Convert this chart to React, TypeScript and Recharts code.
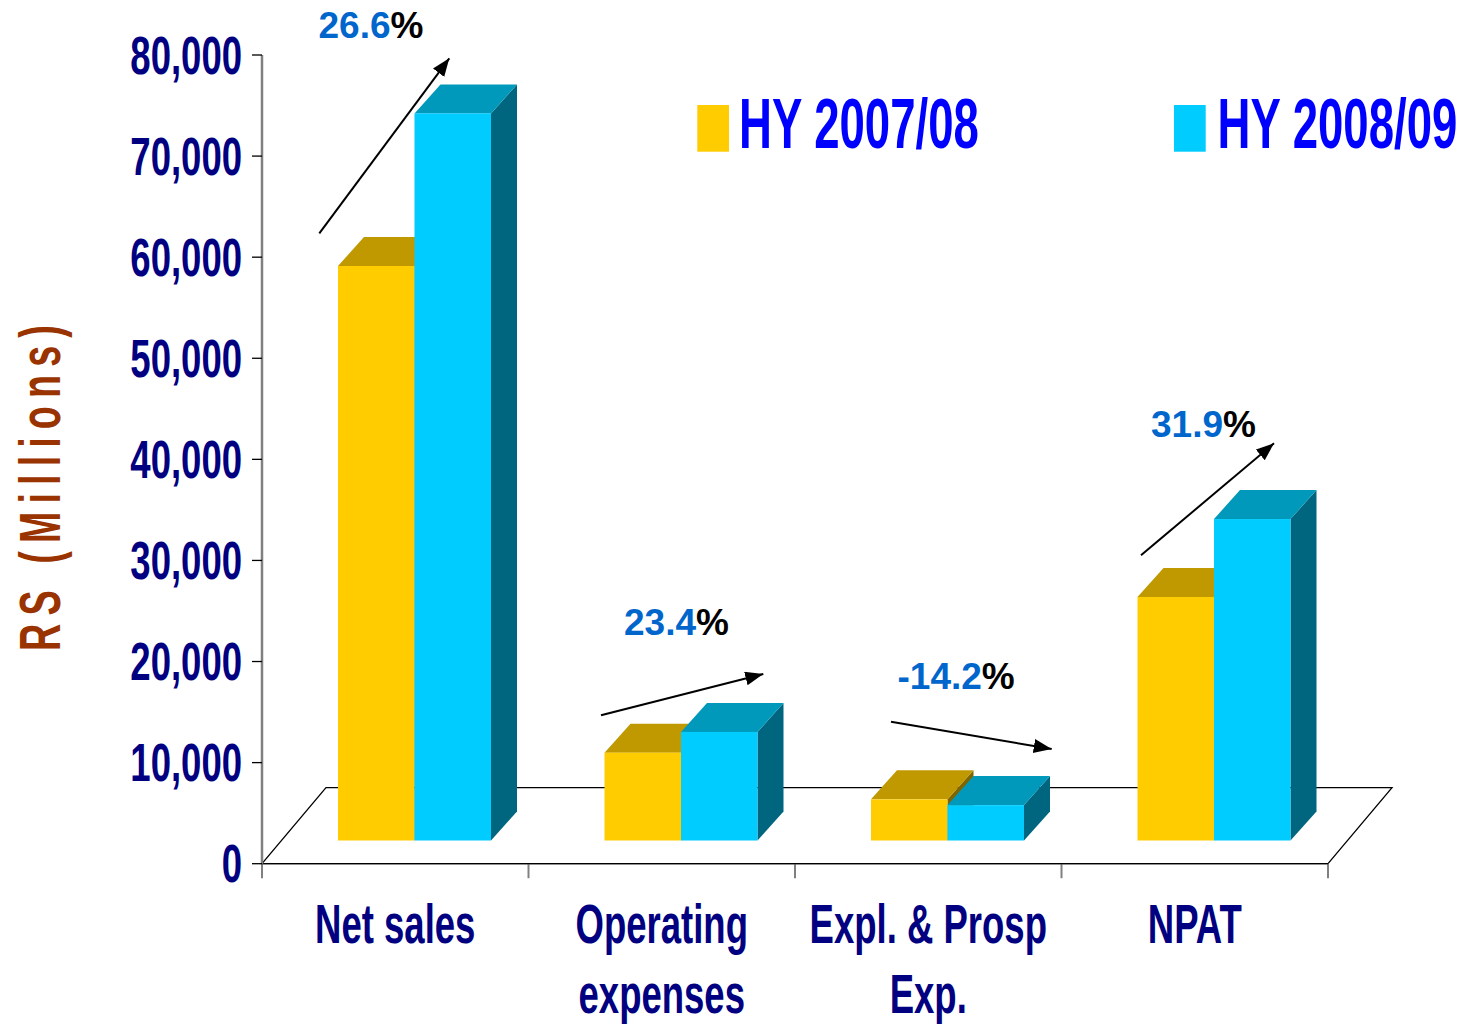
import React from "react";
import { BarChart, Bar, XAxis, YAxis } from "recharts";

// ---------- data ----------
const categories = ["Net sales", "Operating expenses", "Expl. & Prosp Exp.", "NPAT"];
const categoryLines = [["Net sales"], ["Operating", "expenses"], ["Expl. & Prosp", "Exp."], ["NPAT"]];
const hy2007 = [56830, 8690, 4070, 24090];
const hy2008 = [71930, 10740, 3500, 31800];
const seriesNames = ["HY 2007/08", "HY 2008/09"];
const growthLabels = ["26.6", "23.4", "-14.2", "31.9"];
const yTicks = [0, 10000, 20000, 30000, 40000, 50000, 60000, 70000, 80000];
const yTitle = "RS (Millions)";

const data = categories.map((name, i) => ({ name, hy2007: hy2007[i], hy2008: hy2008[i] }));

// ---------- layout / style ----------
const W = 1461;
const H = 1024;
const PLOT_L = 262;
const PLOT_R = 1328;
const PLOT_T = 55;
const PLOT_B = 863.7;
const FRONT_DX = 19;
const FRONT_DY = -23.2;
const TOP_DX = 26;
const TOP_DY = -29;
const FLOOR_DX = 64;
const FLOOR_DY = -76;
const FONT = '"Liberation Sans", Arial, Helvetica, sans-serif';
const NAVY = "#000080";

const COLORS = {
  y: { front: "#FFCC00", top: "#C09800", side: "#7F6500" },
  b: { front: "#00CCFF", top: "#0099BB", side: "#006680" },
};

// annotations (arrows + growth labels)
const arrows = [
  { x1: 319.3, y1: 233.3, x2: 449.3, y2: 58.3 },
  { x1: 601, y1: 715.3, x2: 763.3, y2: 674 },
  { x1: 891, y1: 721.7, x2: 1051.7, y2: 749 },
  { x1: 1141, y1: 555.3, x2: 1274, y2: 443.3 },
];
const labelPos = [
  { x: 318.5, y: 37.7 },
  { x: 624, y: 634.7 },
  { x: 897.5, y: 689 },
  { x: 1151, y: 436.7 },
];

const fmt = (v: number) => v.toLocaleString("en-US");

const YTick = (props: any) => {
  const { x, y, payload } = props;
  return (
    <text
      transform={`translate(${x},${y + 18.5}) scale(0.689,1)`}
      textAnchor="end"
      fontSize={53}
      fontWeight="bold"
      fill={NAVY}
      fontFamily={FONT}
    >
      {fmt(payload.value)}
    </text>
  );
};

const XTick = (props: any) => {
  const { x, y, payload } = props;
  const idx = categories.indexOf(payload.value);
  const lines = categoryLines[idx] || [String(payload.value)];
  return (
    <g>
      {lines.map((l, k) => (
        <text
          key={k}
          transform={`translate(${x},${y + 79.6 + k * 69.5}) scale(0.658,1)`}
          textAnchor="middle"
          fontSize={55.5}
          fontWeight="bold"
          fill={NAVY}
          fontFamily={FONT}
        >
          {l}
        </text>
      ))}
    </g>
  );
};

function make3D(c: { front: string; top: string; side: string }) {
  return (p: any) => {
    const X = p.x + FRONT_DX;
    const Y = p.y + FRONT_DY;
    const w = p.width;
    const h = p.height;
    return (
      <g>
        <polygon
          points={`${X + w},${Y} ${X + w + TOP_DX},${Y + TOP_DY} ${X + w + TOP_DX},${Y + h + TOP_DY} ${X + w},${Y + h}`}
          fill={c.side}
        />
        <polygon
          points={`${X},${Y} ${X + w},${Y} ${X + w + TOP_DX},${Y + TOP_DY} ${X + TOP_DX},${Y + TOP_DY}`}
          fill={c.top}
        />
        <rect x={X} y={Y} width={w} height={h} fill={c.front} />
      </g>
    );
  };
}

const Background = () => {
  const band = (PLOT_R - PLOT_L) / categories.length;
  const bounds = Array.from({ length: categories.length + 1 }, (_, i) => PLOT_L + i * band);
  return (
    <svg width={W} height={H} style={{ position: "absolute", left: 0, top: 0 }}>
      <polygon
        points={`${PLOT_L},${PLOT_B} ${PLOT_R},${PLOT_B} ${PLOT_R + FLOOR_DX},${PLOT_B + FLOOR_DY} ${PLOT_L + FLOOR_DX},${PLOT_B + FLOOR_DY}`}
        fill="none"
        stroke="#000"
        strokeWidth={1.3}
      />
      {bounds.map((bx, i) => (
        <line key={i} x1={bx} x2={bx} y1={PLOT_B} y2={PLOT_B + 14.5} stroke="#808080" strokeWidth={2} />
      ))}
    </svg>
  );
};

const Overlay = () => (
  <svg width={W} height={H} style={{ position: "absolute", left: 0, top: 0, pointerEvents: "none" }}>
    <defs>
      <marker id="ah" markerWidth={20} markerHeight={16} refX={18} refY={7} orient="auto" markerUnits="userSpaceOnUse">
        <path d="M0,0 L18,7 L0,14 z" fill="#000" />
      </marker>
    </defs>
    {/* legend */}
    <rect x={697.3} y={105} width={31.7} height={46.7} fill={COLORS.y.front} />
    <text
      transform={`translate(739,148.3) scale(0.64,1)`}
      fontSize={71.2}
      fontWeight="bold"
      fill="#0000FF"
      fontFamily={FONT}
    >
      {seriesNames[0]}
    </text>
    <rect x={1174} y={105} width={31.7} height={46.7} fill={COLORS.b.front} />
    <text
      transform={`translate(1217.5,148.3) scale(0.64,1)`}
      fontSize={71.2}
      fontWeight="bold"
      fill="#0000FF"
      fontFamily={FONT}
    >
      {seriesNames[1]}
    </text>
    {/* y title */}
    <text
      transform={`translate(59.5,484) rotate(-90) scale(0.65,1)`}
      textAnchor="middle"
      fontSize={58}
      fontWeight="bold"
      fill="#993300"
      letterSpacing={12.5}
      fontFamily={FONT}
    >
      {yTitle}
    </text>
    {/* arrows */}
    {arrows.map((a, i) => (
      <line key={i} x1={a.x1} y1={a.y1} x2={a.x2} y2={a.y2} stroke="#000" strokeWidth={2} markerEnd="url(#ah)" />
    ))}
    {growthLabels.map((g, i) => (
      <text key={i} x={labelPos[i].x} y={labelPos[i].y} fontSize={37} fontWeight="bold" fontFamily={FONT}>
        <tspan fill="#0066CC">{g}</tspan>
        <tspan fill="#000">%</tspan>
      </text>
    ))}
  </svg>
);

export default function App() {
  return (
    <div style={{ position: "absolute", left: 0, top: 0, width: W, height: H, background: "#fff" }}>
      <Background />
      <div style={{ position: "absolute", left: 0, top: 0 }}>
        <BarChart
          width={W}
          height={H}
          data={data}
          margin={{ top: PLOT_T, right: W - PLOT_R, bottom: 0, left: 0 }}
          barGap={0}
          barSize={76.5}
        >
          <XAxis
            dataKey="name"
            height={H - PLOT_B}
            tickSize={0}
            tickMargin={0}
            interval={0}
            axisLine={{ stroke: "#000", strokeWidth: 1.3 }}
            tickLine={false}
            tick={<XTick />}
          />
          <YAxis
            width={PLOT_L}
            domain={[0, 80000]}
            ticks={yTicks}
            interval={0}
            tickSize={10}
            tickMargin={10}
            allowDataOverflow
            axisLine={{ stroke: "#808080", strokeWidth: 2.5 }}
            tickLine={{ stroke: "#000", strokeWidth: 1.3 }}
            tick={<YTick />}
          />
          <Bar dataKey="hy2007" name={seriesNames[0]} isAnimationActive={false} shape={make3D(COLORS.y)} />
          <Bar dataKey="hy2008" name={seriesNames[1]} isAnimationActive={false} shape={make3D(COLORS.b)} />
        </BarChart>
      </div>
      <Overlay />
    </div>
  );
}
